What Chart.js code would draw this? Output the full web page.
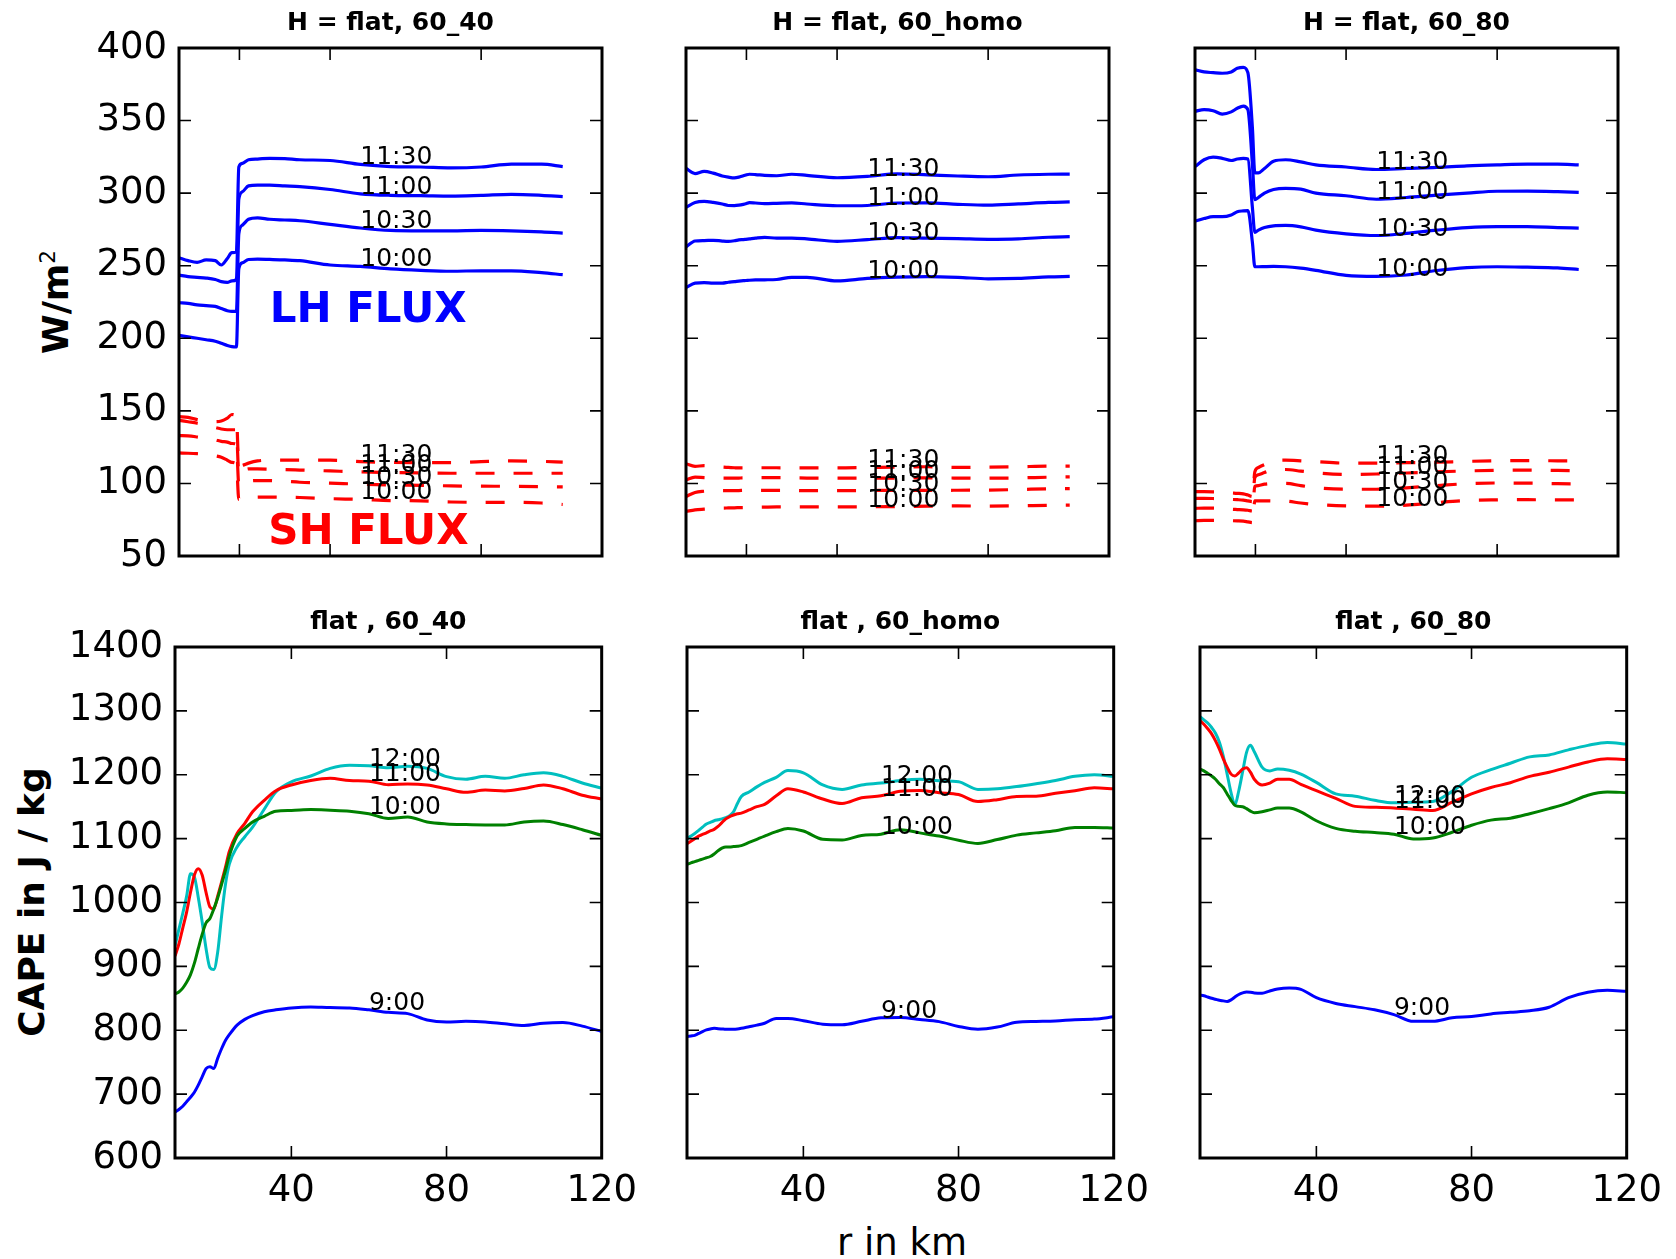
<!DOCTYPE html>
<html>
<head>
<meta charset="utf-8">
<script src="https://cdn.jsdelivr.net/npm/chart.js@4.4.0/dist/chart.umd.min.js"></script>
<style>
  html, body { margin: 0; padding: 0; background: #fff; }
  body { width: 1676px; height: 1259px; position: relative; overflow: hidden; font-family: "DejaVu Sans", sans-serif; }
  .panel { position: absolute; }
  .panel canvas { display: block; }
  .ylab { position: absolute; transform: translate(-50%, -50%) rotate(-90deg); font: bold 36px "DejaVu Sans"; line-height: 1; white-space: nowrap; color: #000; }
  .ylab sup { position: relative; top: -0.62em; font-size: 0.6em; font-weight: normal; vertical-align: baseline; line-height: 0; }
  .xlab { position: absolute; transform: translate(-50%, -50%); font: 37px "DejaVu Sans"; line-height: 1; white-space: nowrap; color: #000; }
</style>
</head>
<body>
<div class="ylab" style="left:56px; top:302px;">W/m<sup>2</sup></div>
<div class="ylab" style="left:32px; top:902px;">CAPE in J / kg</div>
<div class="xlab" style="left:902px; top:1242px;">r in km</div>

<script>
// ---------- radial grids ----------
const X_TOP = [0, 3, 6, 9, 12, 14, 16, 17.5, 19, 19.8, 21, 23, 26, 30, 35, 40, 50, 60, 70, 80, 90, 100, 110, 120, 127];
const X_BOT = [10, 11, 12, 13, 14, 15, 16, 17, 18, 19, 20, 21, 22, 23, 24, 26, 28, 30, 33, 36, 40, 45, 50, 55, 60, 65, 70, 75, 80, 85, 90, 95, 100, 105, 110, 115, 120];

// ---------- tick values ----------
const TOP_X_TICKS = [20, 50, 100];
const BOT_X_TICKS = [40, 80, 120];
const FLUX_RANGE = [50, 400, 50];     // min, max, step (W/m2)
const CAPE_RANGE = [600, 1400, 100];  // min, max, step (J/kg)
const TOP_X_RANGE = [0, 140];
const BOT_X_RANGE = [10, 120];

// ---------- labels ----------
const TOP_TITLES = ['H = flat, 60_40', 'H = flat, 60_homo', 'H = flat, 60_80'];
const BOT_TITLES = ['flat , 60_40', 'flat , 60_homo', 'flat , 60_80'];
const FLUX_TIMES = ['10:00', '10:30', '11:00', '11:30'];
const CAPE_TIMES = ['9:00', '10:00', '11:00', '12:00'];
const LABEL_X = 60;

// ---------- latent heat flux (W/m2), case 60_40 ----------
const LH40_1000 = [202, 201, 200, 199, 198, 196.5, 195, 194.2, 194, 248, 252, 254.3, 254.5, 254.3, 254, 253.5, 250.5, 249.5, 247.8, 246.8, 246.2, 246.5, 246.5, 245.2, 243.8];
const LH40_1030 = [224.5, 224, 223, 222.5, 222, 220.5, 219, 218.5, 218.5, 272, 278, 282, 283, 282, 281.5, 281, 278.5, 276, 274.3, 274, 274, 274.3, 274, 273.3, 272.5];
const LH40_1100 = [243.5, 242.5, 242, 241.5, 240.5, 239, 238.5, 239.5, 240.5, 296, 301, 305, 305.5, 305.5, 305, 304.5, 302.5, 299.5, 298.5, 298.3, 298, 298.5, 299.2, 298.5, 297.6];
const LH40_1130 = [255.5, 253.5, 252.3, 254, 253.5, 250.5, 255, 259, 259.5, 318, 320.5, 323, 323.5, 324, 323.8, 323, 322.5, 319.8, 318.3, 318, 317.4, 318, 320, 320, 318.3];
// sensible heat flux (W/m2), case 60_40
const SH40_1000 = [121, 120.8, 120.5, 120, 119, 118, 116, 114.5, 113.5, 89, 89.5, 90.3, 90.5, 90.6, 90.5, 90.3, 89.5, 89, 88.2, 88, 87.2, 87, 87, 86.5, 85.5];
const SH40_1030 = [133, 132.8, 132, 131, 130, 129, 128.5, 127.5, 127, 99, 100.5, 101.5, 102, 102, 101.5, 100.8, 100.2, 99.5, 99, 98.7, 98.3, 98.1, 98, 97.8, 97.6];
const SH40_1100 = [143.5, 142.5, 141.5, 140, 138.5, 137.5, 137, 137, 137, 106, 108, 110, 110, 109.8, 109.5, 109.2, 108.6, 108, 107.5, 107.2, 107, 107, 107, 107, 107];
const SH40_1130 = [146, 145.5, 144, 143, 142.5, 143, 145, 147.5, 146, 112, 112.5, 114, 115.5, 116, 116, 116, 116, 115, 114.5, 114.3, 114.3, 115, 115.5, 115.2, 114.7];

// ---------- latent heat flux, case 60_homo ----------
const LHHO_1000 = [235, 238, 238.3, 238, 238, 238.6, 239, 239.4, 239.7, 239.8, 240, 240.2, 240.3, 240.5, 242, 242, 239.5, 241.3, 242.2, 242.5, 242, 241, 241.3, 242.3, 242.6];
const LHHO_1030 = [263, 267, 267.3, 267.5, 267, 266.8, 267.2, 267.8, 268, 268.2, 268.5, 269, 269.5, 269, 269, 268.5, 266.8, 268, 269.4, 269, 268.7, 268.2, 268.5, 269.6, 270];
const LHHO_1100 = [290.2, 293.5, 294.3, 293.6, 292.5, 291.5, 291.4, 291.7, 292.3, 292.7, 293.5, 293.2, 292.8, 293, 293.3, 292.5, 291.3, 291.5, 293.2, 293.3, 292.3, 291.7, 292.6, 293.6, 294];
const LHHO_1130 = [317, 313.5, 315, 313.8, 311.8, 311, 310.5, 311, 312, 312.5, 313, 312.8, 312.3, 312, 313, 312.3, 310.6, 311.5, 313.3, 312.6, 311.8, 311.3, 312.5, 313, 313.1];
// sensible heat flux, case 60_homo
const SHHO_1000 = [80.7, 81.8, 82.3, 82.7, 83, 83.1, 83.2, 83.3, 83.4, 83.4, 83.5, 83.6, 83.7, 83.8, 83.8, 83.8, 83.8, 83.9, 84.1, 84.3, 84.5, 84.4, 84.6, 84.9, 85];
const SHHO_1030 = [91, 93.8, 94.6, 94.9, 95, 95, 95.1, 95.1, 95.2, 95.2, 95.2, 95.2, 95.2, 95.2, 95.1, 95, 95, 95.1, 95.2, 95.2, 95.3, 95.4, 95.8, 96.3, 96.4];
const SHHO_1100 = [102.4, 104.3, 104, 103.8, 103.6, 103.6, 103.6, 103.7, 103.8, 103.8, 103.9, 104, 104, 104, 103.9, 103.7, 103.6, 103.6, 103.7, 103.8, 103.7, 103.6, 103.8, 104.3, 104.5];
const SHHO_1130 = [113.6, 111.8, 112.2, 111.8, 111.3, 111, 110.8, 110.7, 110.7, 110.7, 110.8, 110.8, 110.8, 110.8, 110.7, 110.7, 110.7, 111, 111.3, 111.5, 111, 111.2, 111.5, 111.9, 111.9];

// ---------- latent heat flux, case 60_80 ----------
const LH80_1000 = [280.7, 282.5, 283.8, 283.8, 285, 287.2, 287.8, 288, 266, 249.3, 249.3, 249.4, 249.5, 249.3, 248.3, 246.8, 243.3, 242.6, 243.6, 246.7, 248.7, 249.3, 249, 248.5, 247.4];
const LH80_1030 = [318.3, 323, 324.8, 324, 322.5, 323.5, 324, 323.5, 290, 273, 274.5, 276.3, 277.5, 277.8, 276.8, 274.5, 272, 270.8, 272.3, 274.5, 276.3, 277, 277, 276.3, 275.9];
const LH80_1100 = [356.4, 357.5, 356.8, 354.5, 356, 358.5, 360, 357.5, 320, 295.5, 297, 300, 302.5, 303.3, 302.8, 300, 298.2, 295.8, 297, 298.6, 300, 301.3, 301.4, 301, 300.5];
const LH80_1130 = [385, 383.5, 383, 382.6, 383.5, 386, 386.7, 383, 345, 314, 314, 317, 322, 323, 321.5, 319.5, 318, 316.3, 317, 317.7, 318.8, 319.5, 320, 320, 319.5];
// sensible heat flux, case 60_80
const SH80_1000 = [74.3, 74.5, 74.5, 74.4, 74.3, 74.2, 74, 73.5, 73, 88, 88, 88, 87.9, 87.8, 86.5, 85.5, 84.5, 84.3, 85, 86.8, 88.3, 88.7, 88.8, 88.6, 88.6];
const SH80_1030 = [82.8, 83, 83, 82.6, 82.2, 82, 81.8, 81.5, 81, 98, 98.5, 99.5, 100, 100, 98.5, 97, 96, 96, 97, 98.5, 99.8, 100.3, 100.2, 99.8, 99.6];
const SH80_1100 = [89.7, 89.7, 89.6, 89.3, 89, 88.8, 88.5, 88, 87.5, 104, 106, 107.5, 109.5, 109.6, 108.5, 107.3, 106.2, 106.5, 107.2, 108, 108.6, 109, 109.2, 109, 108.8];
const SH80_1130 = [94.3, 94.3, 94.2, 94, 93.5, 93.2, 92.8, 92, 91, 108, 111, 113, 115.5, 116, 115.6, 115, 114, 114, 114.3, 114.6, 115.2, 115.6, 115.7, 115.6, 115.5];

// ---------- CAPE (J/kg), case 60_40 ----------
const CAPE40_0900 = [672, 676, 681, 688, 695, 703, 714, 727, 740, 743, 740, 756, 771, 784, 793, 808, 817, 823, 829, 832, 835, 836.5, 835.5, 835, 832, 828, 826, 816, 813, 814, 813, 810, 807.5, 811, 812, 806.5, 798];
const CAPE40_1000 = [857, 860, 866, 875, 887, 905, 928, 950, 968, 975, 990, 1007, 1028, 1050, 1073, 1104, 1116, 1126, 1135, 1143, 1144, 1145.5, 1144.5, 1143, 1139, 1131.5, 1134, 1126, 1123, 1122, 1121.5, 1121.5, 1126, 1127.5, 1122, 1114, 1105];
const CAPE40_1100 = [916, 935, 960, 985, 1016, 1043, 1053, 1043, 1016, 993, 990, 1010, 1032, 1055, 1080, 1108, 1124, 1142, 1160, 1175, 1184, 1191, 1194.5, 1191, 1190, 1184.5, 1185.7, 1184, 1178, 1172.5, 1176, 1174.5, 1178.5, 1184, 1178, 1168, 1162];
const CAPE40_1200 = [932, 958, 983, 1010, 1045, 1040, 1008, 970, 928, 898, 895, 922, 978, 1028, 1060, 1087, 1103, 1118, 1146, 1173, 1189, 1198, 1210, 1214.8, 1214, 1211, 1213.5, 1210, 1197, 1193, 1197.5, 1194.5, 1200, 1203, 1197.5, 1187, 1179];

// ---------- CAPE, case 60_homo ----------
const CAPEHO_0900 = [790, 791, 792, 795, 798, 800.5, 802, 803, 802.5, 802, 801.5, 801.5, 801.5, 802, 803, 805.5, 808, 811, 818.5, 818.5, 815, 809.5, 808.7, 814, 819.5, 820, 817, 813.5, 806, 801.5, 805, 812.5, 813.7, 814.5, 816.5, 817.5, 821];
const CAPEHO_1000 = [1059.5, 1062, 1064, 1066, 1068, 1070, 1072, 1076, 1081, 1085, 1087, 1087, 1087.5, 1088, 1089, 1094, 1099, 1104, 1111, 1116, 1112, 1099, 1098, 1105, 1107, 1114, 1109, 1104, 1097.5, 1092.5, 1098.5, 1105.5, 1109, 1112.5, 1117.5, 1117.5, 1116.5];
const CAPEHO_1100 = [1092, 1096, 1100, 1104, 1106.5, 1109, 1112, 1114.5, 1119, 1125, 1131, 1134.5, 1137, 1139, 1140, 1145, 1150, 1153.5, 1167, 1178, 1173, 1162, 1155, 1164, 1167, 1174, 1175.5, 1172, 1169, 1158, 1161, 1166, 1166.5, 1171, 1175, 1179.5, 1178];
const CAPEHO_1200 = [1100, 1104, 1108, 1113, 1118, 1123, 1125.5, 1128, 1129.5, 1131, 1133, 1136, 1142, 1155, 1166, 1173, 1181, 1188, 1196, 1206.5, 1203, 1184, 1177, 1184, 1187, 1191, 1193, 1190.5, 1189, 1177, 1178, 1181.5, 1186, 1191, 1197.5, 1200, 1197.5];

// ---------- CAPE, case 60_80 ----------
const CAPE80_0900 = [855, 854, 852, 850, 848.5, 847, 846, 845, 847.5, 852, 856, 858.5, 860, 859.5, 858.5, 858, 861.5, 864.5, 866, 864, 851, 842, 837, 832, 824.5, 814, 814, 819.5, 821.5, 825.5, 828, 830.5, 836, 851, 859.5, 862.5, 861];
const CAPE80_1000 = [1209, 1206, 1202, 1198, 1193, 1186, 1180, 1170, 1160, 1152, 1150.5, 1150, 1147, 1143, 1140.5, 1142, 1145, 1148, 1148, 1142, 1128, 1116, 1111.5, 1109.5, 1107, 1099.5, 1101, 1110, 1121, 1129, 1132, 1139, 1147, 1156, 1168, 1173, 1172];
const CAPE80_1100 = [1285, 1279, 1272, 1264, 1253, 1240, 1225, 1212, 1201, 1198, 1203, 1209, 1211, 1204, 1193, 1184, 1187, 1193, 1193, 1185, 1175, 1163, 1150.5, 1149, 1148, 1146, 1144, 1157, 1170, 1180, 1187.5, 1197.5, 1204, 1212, 1220, 1225, 1224];
const CAPE80_1200 = [1291, 1286, 1281, 1274, 1265, 1251, 1229, 1201, 1172, 1153, 1175, 1205, 1235, 1246, 1236, 1212, 1206, 1209, 1207, 1201, 1188, 1170, 1166.5, 1160, 1156, 1157, 1158, 1174, 1196, 1208, 1218, 1228, 1231, 1239, 1246, 1250.5, 1248];

// ---------- layout of the six axes (px) ----------
const TOP_BOXES = [
  { left: 179, top: 48, w: 423, h: 508 },
  { left: 686, top: 48, w: 423, h: 508 },
  { left: 1195, top: 48, w: 423, h: 508 }
];
const BOT_BOXES = [
  { left: 175, top: 647, w: 428, h: 511 },
  { left: 687, top: 647, w: 428, h: 511 },
  { left: 1200, top: 647, w: 428, h: 511 }
];

const FONT = '"DejaVu Sans"';
const TICK_LEN = 12;
const BLUE = '#0000ff', RED = '#ff0000', GREEN = '#008000', CYAN = '#00bfbf';

Chart.defaults.font.family = FONT;

// axes frame with inward ticks on all four sides
const frameTicks = {
  id: 'frameTicks',
  afterDatasetsDraw(chart) {
    const { ctx, chartArea: a, scales: { x, y } } = chart;
    ctx.save();
    ctx.strokeStyle = '#000';
    ctx.lineWidth = 1.6;
    ctx.beginPath();
    x.ticks.forEach(t => {
      const p = x.getPixelForValue(t.value);
      ctx.moveTo(p, a.bottom); ctx.lineTo(p, a.bottom - TICK_LEN);
      ctx.moveTo(p, a.top); ctx.lineTo(p, a.top + TICK_LEN);
    });
    y.ticks.forEach(t => {
      const p = y.getPixelForValue(t.value);
      ctx.moveTo(a.left, p); ctx.lineTo(a.left + TICK_LEN, p);
      ctx.moveTo(a.right, p); ctx.lineTo(a.right - TICK_LEN, p);
    });
    ctx.stroke();
    ctx.lineWidth = 3;
    ctx.strokeRect(a.left, a.top, a.right - a.left, a.bottom - a.top);
    ctx.restore();
  }
};

// axes title plus text placed in data coordinates
const panelText = {
  id: 'panelText',
  afterDatasetsDraw(chart, args, opts) {
    const { ctx, chartArea: a, scales: { x, y } } = chart;
    ctx.save();
    if (opts.title) {
      ctx.font = 'bold 25px ' + FONT;
      ctx.fillStyle = '#000';
      ctx.textAlign = 'center';
      ctx.textBaseline = 'middle';
      ctx.fillText(opts.title, (a.left + a.right) / 2, a.top - 25);
    }
    (opts.items || []).forEach(it => {
      ctx.font = (it.weight || 'normal') + ' ' + it.size + 'px ' + FONT;
      ctx.fillStyle = it.color || '#000';
      ctx.textAlign = 'left';
      ctx.textBaseline = 'alphabetic';
      ctx.fillText(it.text, x.getPixelForValue(it.x), y.getPixelForValue(it.y));
    });
    ctx.restore();
  }
};

function valueAt(xs, values, xv) {
  return values[xs.indexOf(xv)];
}

function makePanel(cfg) {
  const { box, m } = cfg;
  const wrap = document.createElement('div');
  wrap.className = 'panel';
  wrap.style.left = (box.left - m.l) + 'px';
  wrap.style.top = (box.top - m.t) + 'px';
  const cv = document.createElement('canvas');
  cv.width = m.l + box.w + m.r;
  cv.height = m.t + box.h + m.b;
  cv.style.width = cv.width + 'px';
  cv.style.height = cv.height + 'px';
  wrap.appendChild(cv);
  document.body.appendChild(wrap);

  const datasets = cfg.series.map(s => ({
    label: s.label,
    data: cfg.xs.map((xv, i) => ({ x: xv, y: s.values[i] })),
    borderColor: s.color,
    borderWidth: s.width,
    borderDash: s.dash || [],
    borderCapStyle: 'butt',
    borderJoinStyle: 'round',
    pointRadius: 0,
    cubicInterpolationMode: 'monotone',
    fill: false
  }));

  return new Chart(cv, {
    type: 'line',
    data: { datasets },
    options: {
      responsive: false,
      animation: false,
      devicePixelRatio: 1,
      events: [],
      layout: { padding: { left: 0, top: m.t, right: m.r, bottom: 0 } },
      plugins: {
        legend: { display: false },
        tooltip: { enabled: false },
        title: { display: false },
        panelText: { title: cfg.title, items: cfg.texts }
      },
      scales: {
        x: {
          type: 'linear',
          min: cfg.xRange[0],
          max: cfg.xRange[1],
          afterBuildTicks: s => { s.ticks = cfg.xTicks.map(v => ({ value: v })); },
          afterFit: s => { s.height = m.b; },
          grid: { display: false, drawTicks: false },
          border: { display: false },
          ticks: {
            display: cfg.showX,
            autoSkip: false,
            maxRotation: 0,
            padding: 11,
            color: '#000',
            font: { family: FONT, size: 37 },
            callback: v => String(v)
          }
        },
        y: {
          type: 'linear',
          min: cfg.yRange[0],
          max: cfg.yRange[1],
          afterFit: s => { s.width = m.l; },
          grid: { display: false, drawTicks: false },
          border: { display: false },
          ticks: {
            display: cfg.showY,
            stepSize: cfg.yRange[2],
            padding: 12,
            color: '#000',
            font: { family: FONT, size: 37 },
            callback: v => String(v)
          }
        }
      }
    },
    plugins: [frameTicks, panelText]
  });
}

// ---------- surface flux panels ----------
const FLUX_CASES = [
  { lh: [LH40_1000, LH40_1030, LH40_1100, LH40_1130], sh: [SH40_1000, SH40_1030, SH40_1100, SH40_1130] },
  { lh: [LHHO_1000, LHHO_1030, LHHO_1100, LHHO_1130], sh: [SHHO_1000, SHHO_1030, SHHO_1100, SHHO_1130] },
  { lh: [LH80_1000, LH80_1030, LH80_1100, LH80_1130], sh: [SH80_1000, SH80_1030, SH80_1100, SH80_1130] }
];

FLUX_CASES.forEach((c, k) => {
  const series = [];
  const texts = [];
  c.sh.forEach((v, i) => {
    series.push({ label: 'SH ' + FLUX_TIMES[i], values: v, color: RED, width: 3.2, dash: [19, 19] });
    texts.push({ x: LABEL_X, y: valueAt(X_TOP, v, LABEL_X), text: FLUX_TIMES[i], size: 25 });
  });
  c.lh.forEach((v, i) => {
    series.push({ label: 'LH ' + FLUX_TIMES[i], values: v, color: BLUE, width: 3.2 });
    texts.push({ x: LABEL_X, y: valueAt(X_TOP, v, LABEL_X), text: FLUX_TIMES[i], size: 25 });
  });
  if (k === 0) {
    texts.push({ x: 30, y: 211, text: 'LH FLUX', size: 42, weight: 'bold', color: BLUE });
    texts.push({ x: 29.5, y: 58, text: 'SH FLUX', size: 42, weight: 'bold', color: RED });
  }
  makePanel({
    box: TOP_BOXES[k],
    m: { l: k === 0 ? 170 : 15, t: 45, r: 45, b: 60 },
    xs: X_TOP,
    series,
    texts,
    title: TOP_TITLES[k],
    xRange: TOP_X_RANGE,
    xTicks: TOP_X_TICKS,
    yRange: FLUX_RANGE,
    showX: false,
    showY: k === 0
  });
});

// ---------- CAPE panels ----------
const CAPE_CASES = [
  [CAPE40_0900, CAPE40_1000, CAPE40_1100, CAPE40_1200],
  [CAPEHO_0900, CAPEHO_1000, CAPEHO_1100, CAPEHO_1200],
  [CAPE80_0900, CAPE80_1000, CAPE80_1100, CAPE80_1200]
];
const CAPE_COLORS = [BLUE, GREEN, RED, CYAN];

CAPE_CASES.forEach((c, k) => {
  const series = c.map((v, i) => ({ label: CAPE_TIMES[i], values: v, color: CAPE_COLORS[i], width: 3 }));
  const texts = c.map((v, i) => ({ x: LABEL_X, y: valueAt(X_BOT, v, LABEL_X), text: CAPE_TIMES[i], size: 25 }));
  makePanel({
    box: BOT_BOXES[k],
    m: { l: k === 0 ? 170 : 15, t: 45, r: 45, b: 60 },
    xs: X_BOT,
    series,
    texts,
    title: BOT_TITLES[k],
    xRange: BOT_X_RANGE,
    xTicks: BOT_X_TICKS,
    yRange: CAPE_RANGE,
    showX: true,
    showY: k === 0
  });
});
</script>
</body>
</html>
